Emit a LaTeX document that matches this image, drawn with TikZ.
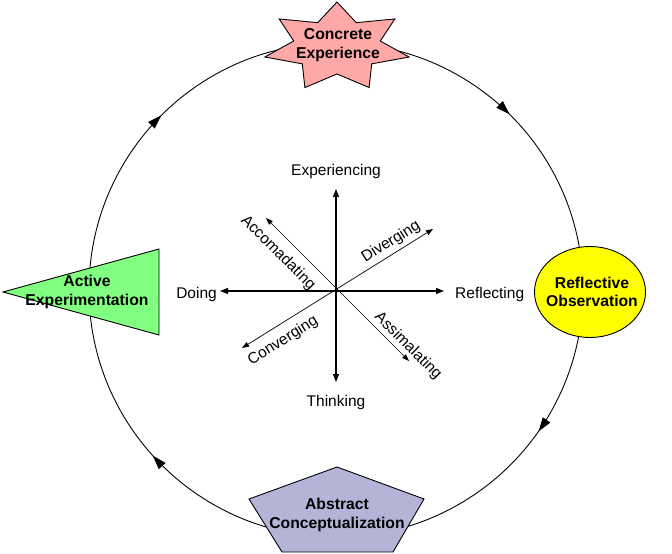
\documentclass[tikz,border=0pt]{standalone}
\usepackage{fontspec}
\setmainfont{Liberation Sans}
\usetikzlibrary{arrows.meta,decorations.markings}
\definecolor{starpink}{RGB}{255,168,168}
\definecolor{aegreen}{RGB}{128,255,128}
\definecolor{acblue}{RGB}{180,180,216}
\definecolor{royellow}{RGB}{255,255,0}
\begin{document}
\begin{tikzpicture}[x=1pt,y=-1pt,
  shapeline/.style={draw=black, line width=0.9pt},
  title/.style={font=\fontsize{15.7}{18.5}\selectfont\bfseries, align=center, inner sep=0pt},
  lab/.style={font=\fontsize{15.5}{18}\selectfont, inner sep=0pt},
  axis/.style={line width=1.3pt, {Triangle[length=8pt,width=6pt]}-{Triangle[length=8pt,width=6pt]}},
  diag/.style={line width=0.7pt, {Triangle[length=7pt,width=5pt]}-{Triangle[length=7pt,width=5pt]}},
  cyc/.style={line width=0.9pt, postaction={decorate}, decoration={markings,
      mark=at position 0.124 with {\arrow{Triangle[length=14pt,width=9pt]}},
      mark=at position 0.347 with {\arrow{Triangle[length=14pt,width=9pt]}},
      mark=at position 0.633 with {\arrow{Triangle[length=14pt,width=9pt]}},
      mark=at position 0.875 with {\arrow{Triangle[length=14pt,width=9pt]}}}}
]
\useasboundingbox (0,0) rectangle (672,554);
% cycle
\coordinate (O) at (336,290);
\draw[cyc] (336,43) arc[start angle=90, end angle=-270, radius=247pt];
% shapes
\filldraw[shapeline, fill=starpink] plot[samples at={0,...,13}, variable=\k]
  ({337+ifthenelse(isodd(\k),44.4,74)*cos(90+\k*180/7)}, {47-ifthenelse(isodd(\k),27,45)*sin(90+\k*180/7)}) -- cycle;
\node[title] (CE) at (338,45) {Concrete\\Experience};
\filldraw[shapeline, fill=aegreen] (3,292) -- (159,249) -- (159,335) -- cycle;
\node[title] (AE) at (87,292) {Active\\Experimentation};
\filldraw[shapeline, fill=royellow] (590,292) ellipse [x radius=55.5pt, y radius=45.5pt];
\node[title] (RO) at (592,292) {Reflective\\Observation};
\filldraw[shapeline, fill=acblue] (337,467) -- (424,499) -- (393,552) -- (282,552) -- (249,499) -- cycle;
\node[title] (AC) at (337,515) {Abstract\\Conceptualization};
% axes
\coordinate (C) at (336,291);
\coordinate (N) at (336,189);
\coordinate (S) at (336,382);
\coordinate (W) at (220,291);
\coordinate (E) at (444,291);
\coordinate (NW) at (266,218);
\coordinate (SE) at (409,361);
\coordinate (NE) at (433,229);
\coordinate (SW) at (242,348);
\draw[axis] (S) -- (N);
\draw[axis] (W) -- (E);
\draw[diag] (SE) -- (NW);
\draw[diag] (SW) -- (NE);
% labels
\node[lab, anchor=base] (EXP) at (336,175) {Experiencing};
\node[lab, anchor=base] (THK) at (336,406) {Thinking};
\node[lab, anchor=base east] (DO) at (217,298) {Doing};
\node[lab, anchor=base west] (REF) at (455,298) {Reflecting};
\node[lab, rotate=-45] (ACC) at (278,253) {Accomadating};
\node[lab, rotate=32] (DIV) at (391,242) {Diverging};
\node[lab, rotate=32] (CON) at (283,341) {Converging};
\node[lab, rotate=-45] (ASS) at (408,346) {Assimalating};
\end{tikzpicture}
\end{document}
